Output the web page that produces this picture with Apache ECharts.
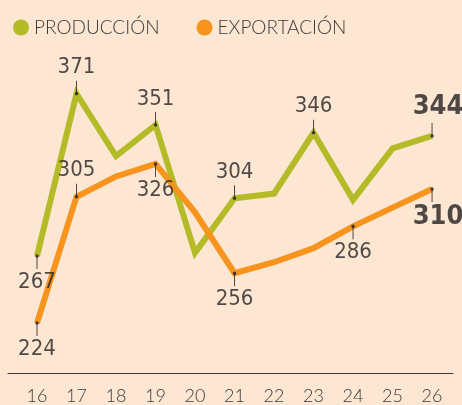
<!DOCTYPE html>
<html><head><meta charset="utf-8">
<script src="https://cdn.jsdelivr.net/npm/echarts@6/dist/echarts.min.js"></script>
<style>html,body{margin:0;padding:0;background:#fde7d3}#c{width:462px;height:405px}</style>
</head><body><div id="c"></div>
<script>
const years = [16,17,18,19,20,21,22,23,24,25,26];
const produccion = [267,371,331,351,269,304,307,346,303,336,344];
const exportacion = [224,305,318,326,295,256,263,272,286,298,310];
const prodLabelPos = ['bottom','top',null,'top',null,'top',null,'top',null,null,'top'];
const expoLabelPos = ['bottom','top',null,'bottom',null,'bottom',null,null,'bottom',null,'bottom'];
const seriesNames = ['PRODUCCIÓN','EXPORTACIÓN'];
const colors = ['#b3bb27','#f7941d'];

const LEAD = 13;
const LABEL_FONT = "'DejaVu Sans Condensed', 'Liberation Sans Narrow', Roboto, sans-serif";
function leaderData(vals, pos){
  const out = [];
  vals.forEach((v,i)=>{
    if(!pos[i]) return;
    const last = i === vals.length-1;
    out.push({
      value:[years[i], v],
      symbolOffset:[0, pos[i]==='top' ? -LEAD/2 : LEAD/2],
      label:{
        show:true, position:pos[i], distance:2,
        offset: last ? [6,0] : [0,0],
        fontSize: last ? 27 : 22,
        fontWeight: last ? 'bold' : 'normal'
      }
    });
  });
  return out;
}
function dotData(vals,pos){
  return vals.map((v,i)=>pos[i]?[years[i],v]:null).filter(Boolean);
}
function lineSeries(name, vals, color){
  return {name, type:'line', data:vals.map((v,i)=>[years[i],v]), showSymbol:false,
    symbol:'circle', symbolSize:10, lineStyle:{color, width:6, join:'miter'}, itemStyle:{color}, z:2};
}
function leaderSeries(vals,pos){
  return {type:'scatter', data:leaderData(vals,pos), symbol:'rect', symbolSize:[1,LEAD],
    itemStyle:{color:'#231f20'}, z:5, silent:true,
    label:{color:'#231f20', fontFamily:LABEL_FONT, formatter:p=>p.value[1]}};
}
function dotSeries(vals,pos){
  return {type:'scatter', data:dotData(vals,pos), symbol:'circle', symbolSize:3.5,
    itemStyle:{color:'#231f20'}, z:6, silent:true};
}
const chart = echarts.init(document.getElementById('c'));
chart.setOption({
  backgroundColor:'#fde7d3',
  animation:false,
  color:colors,
  legend:{
    data:seriesNames, left:8, top:13, icon:'circle', itemWidth:16, itemHeight:16, itemGap:37,
    textStyle:{fontFamily:'Lato', fontWeight:300, fontSize:19, color:'#3a3a3a', padding:[0,0,0,0]}
  },
  grid:{left:8, right:9, top:61, bottom:30},
  xAxis:{type:'value', min:15.266, max:26.53,
    axisLine:{show:true, lineStyle:{color:'#3a3a3a', width:1}},
    axisTick:{show:false}, splitLine:{show:false},
    axisLabel:{customValues:years, margin:14, fontFamily:'Lato', fontWeight:300, fontSize:18, color:'#3a3a3a',
      formatter:v=>String(Math.round(v))}
  },
  yAxis:{type:'value', min:192, max:392, show:false, splitLine:{show:false}},
  series:[
    lineSeries(seriesNames[0], produccion, colors[0]),
    lineSeries(seriesNames[1], exportacion, colors[1]),
    leaderSeries(produccion, prodLabelPos),
    leaderSeries(exportacion, expoLabelPos),
    dotSeries(produccion, prodLabelPos),
    dotSeries(exportacion, expoLabelPos)
  ]
});
</script></body></html>
